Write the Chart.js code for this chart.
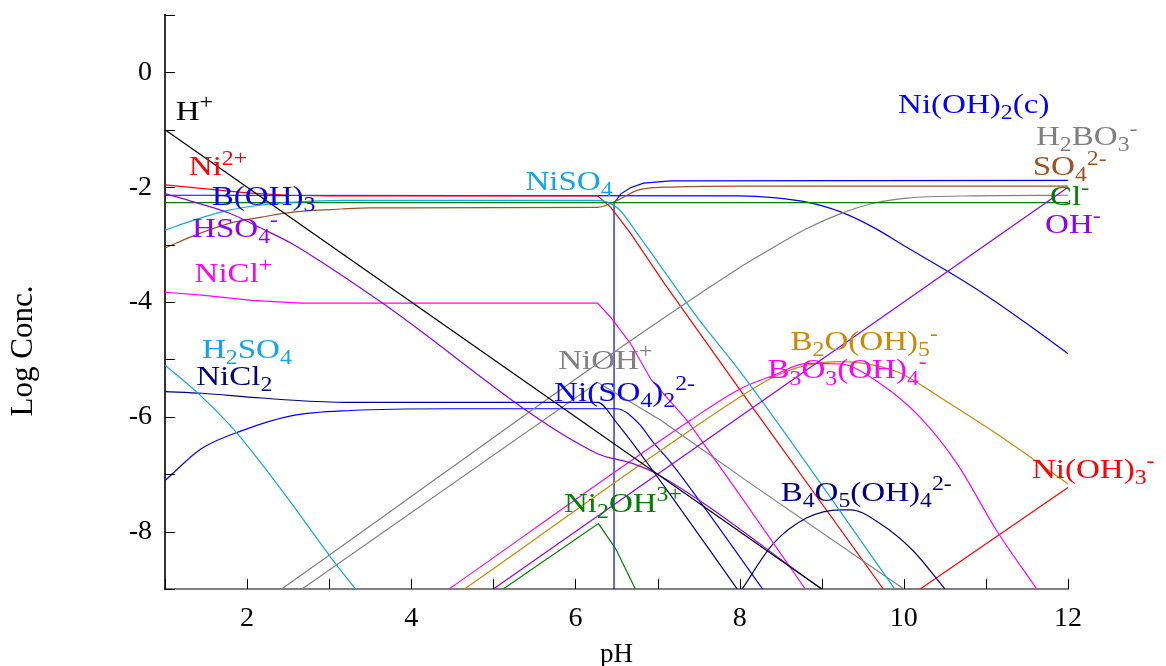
<!DOCTYPE html>
<html lang="en">
<head>
  <meta charset="UTF-8">
  <title>Log Conc. vs pH</title>
  <style>
    html, body {
      margin: 0;
      padding: 0;
      background: #fff;
    }
    #chart-container {
      width: 1166px;
      height: 666px;
      position: relative;
    }
  </style>
  <script src="https://cdn.jsdelivr.net/npm/chart.js"></script>
</head>
<body>
  <div id="chart-container">
    <canvas id="specChart"></canvas>
  </div>

  <script>
    // species curves as [pH, log conc.] pairs
    const hPlus = [[1, -1], [9, -9]];
    const ohMinus = [[5, -9], [12, -2]];
    const clMinus = [[1, -2.27], [12, -2.27]];
    const ni2 = [[1, -1.96], [1.5, -2.03], [2, -2.1], [2.5, -2.14], [3, -2.15], [6.27, -2.15], [6.43, -2.35], [6.67, -2.8], [7.08, -3.67], [8.07, -5.66], [9.75, -9]];
    const bOH3 = [[1, -2.14], [8, -2.15], [8.41, -2.18], [8.82, -2.26], [9.23, -2.43], [9.63, -2.7], [10.04, -3.05], [10.54, -3.47], [11.05, -3.93], [11.53, -4.41], [12, -4.9]];
    const hso4 = [[1, -2.11], [1.36, -2.26], [1.78, -2.45], [2.18, -2.72], [2.58, -3.01], [2.87, -3.27], [3.6, -3.97], [6.25, -6.63], [6.71, -6.82], [7, -7], [9, -9]];
    const niCl = [[1, -3.83], [1.45, -3.88], [2.06, -3.97], [2.66, -4.02], [6.27, -4.02], [6.43, -4.27], [6.67, -4.72], [6.92, -5.35], [7.37, -6.08], [8.07, -7.5], [8.8, -9]];
    const niCl2 = [[1, -5.56], [1.45, -5.59], [2.06, -5.66], [2.66, -5.72], [3.27, -5.75], [6.27, -5.75], [6.5, -6.1], [7, -7.05], [7.97, -9]];
    const h2so4 = [[1, -5.1], [1.41, -5.6], [1.85, -6.24], [2.46, -7.35], [3.03, -8.47], [3.32, -9]];
    const niSO4 = [[1, -2.75], [1.36, -2.57], [1.78, -2.4], [2.18, -2.31], [2.58, -2.26], [3.15, -2.23], [6.27, -2.23], [6.52, -2.37], [6.75, -2.8], [7, -3.3], [7.5, -4.3], [8, -5.2], [9.89, -9]];
    const so4 = [[1, -3.06], [1.36, -2.84], [1.78, -2.63], [2.18, -2.52], [2.58, -2.43], [3.15, -2.38], [3.5, -2.36], [6.27, -2.35], [6.51, -2.23], [6.76, -2.05], [7.08, -2], [8, -1.98], [12, -1.98]];
    const niSO42 = [[1, -7.11], [1.45, -6.55], [1.94, -6.24], [2.55, -5.98], [3.27, -5.89], [4.49, -5.86], [6.5, -5.86], [6.76, -6.1], [6.95, -6.45], [7.14, -6.76], [7.56, -7.56], [8.28, -9]];
    const niOH = [[2.67, -9], [6.27, -5.4], [6.5, -5.6], [7.04, -6.06], [8.13, -7.16], [10, -9]];
    const h2bo3 = [[2.42, -9], [8.01, -3.39], [8.41, -3.05], [8.82, -2.72], [9.23, -2.46], [9.63, -2.28], [10.04, -2.19], [10.84, -2.15], [12, -2.14]];
    const ni2OH = [[5.12, -9], [6.28, -7.86], [6.49, -8.3], [6.73, -9]];
    const b2o = [[4.65, -9], [8, -5.66], [8.41, -5.31], [8.82, -5.1], [9.23, -5.04], [9.63, -5.1], [9.96, -5.24], [10.44, -5.66], [11.26, -6.42], [12, -7.17]];
    const b3o3 = [[4.46, -9], [7.4, -6.06], [8.01, -5.51], [8.41, -5.28], [8.82, -5.07], [9.23, -5.08], [9.71, -5.42], [10.2, -6.01], [10.65, -6.82], [11.13, -7.98], [11.62, -9]];
    const b4o5 = [[8.03, -9], [8.41, -8.21], [8.82, -7.76], [9.23, -7.62], [9.35, -7.62], [9.71, -7.86], [10.11, -8.33], [10.5, -9]];
    const niOH3 = [[10.2, -9], [12, -7.23]];
    const niOH2c = [[6.47, -9], [6.47, -2.28], [6.55, -2.12], [6.67, -2.01], [6.83, -1.93], [7.16, -1.89], [12, -1.88]];

    const pHTicks = [2, 4, 6, 8, 10, 12];
    const logTicks = [0, -2, -4, -6, -8];

    const serif = '"Liberation Serif", "Times New Roman", serif';
    const LABEL_SIZE = 28;
    const STRETCH = 1.18;

    // curve, colour, smooth?
    const series = [
      [hPlus, '#000000', false],
      [ohMinus, '#8f00ff', false],
      [hso4, '#8f00ff', true],
      [h2so4, '#12a4ee', true],
      [niSO4, '#12a4ee', true],
      [clMinus, '#008000', false],
      [ni2OH, '#008000', false],
      [so4, '#a0521e', true],
      [niCl, '#ff00ff', false],
      [b3o3, '#ff00ff', true],
      [niCl2, '#000080', true],
      [b4o5, '#000080', true],
      [niOH, '#808080', false],
      [h2bo3, '#808080', true],
      [b2o, '#cc8800', true],
      [niOH3, '#ff0000', false],
      [ni2, '#ff0000', false],
      [bOH3, '#0000ff', true],
      [niSO42, '#0000ff', true],
      [niOH2c, '#0000ff', false]
    ];

    // label text (_x = subscript, ^{..} = superscript) anchored at [pH, log conc.]
    const speciesLabels = [
      ['H^{+}', 1.13, -0.83, '#000000'],
      ['Ni^{2+}', 1.29, -1.79, '#ff0000'],
      ['B(OH)_3', 1.57, -2.31, '#0000ff'],
      ['HSO_4^{-}', 1.33, -2.87, '#8f00ff'],
      ['NiCl^{+}', 1.36, -3.66, '#ff00ff'],
      ['H_2SO_4', 1.45, -4.97, '#12a4ee'],
      ['NiCl_2', 1.38, -5.45, '#000080'],
      ['NiSO_4', 5.39, -2.05, '#12a4ee'],
      ['NiOH^{+}', 5.79, -5.16, '#808080'],
      ['Ni(SO_4)_2^{2-}', 5.74, -5.72, '#0000ff'],
      ['Ni_2OH^{3+}', 5.86, -7.65, '#008000'],
      ['B_4O_5(OH)_4^{2-}', 8.5, -7.46, '#000080'],
      ['B_2O(OH)_5^{-}', 8.62, -4.84, '#cc8800'],
      ['B_3O_3(OH)_4^{-}', 8.34, -5.33, '#ff00ff'],
      ['Ni(OH)_3^{-}', 11.56, -7.06, '#ff0000'],
      ['Ni(OH)_2(c)', 9.93, -0.71, '#0000ff'],
      ['H_2BO_3^{-}', 11.61, -1.27, '#808080'],
      ['SO_4^{2-}', 11.57, -1.79, '#a0521e'],
      ['Cl^{-}', 11.78, -2.31, '#008000'],
      ['OH^{-}', 11.72, -2.8, '#8f00ff']
    ];

    const yTitle = 'Log Conc.';

    function parseRich(str) {
      const segs = [];
      let buf = '';
      for (let i = 0; i < str.length; i++) {
        const c = str[i];
        if (c === '_' || c === '^') {
          if (buf) { segs.push({ t: buf, m: 'n' }); buf = ''; }
          if (c === '_') {
            segs.push({ t: str[i + 1], m: 'b' });
            i++;
          } else {
            const end = str.indexOf('}', i);
            segs.push({ t: str.slice(i + 2, end), m: 'p' });
            i = end;
          }
        } else {
          buf += c;
        }
      }
      if (buf) segs.push({ t: buf, m: 'n' });
      return segs;
    }

    const richLabels = {
      id: 'richLabels',
      afterDatasetsDraw(chart) {
        const { ctx, scales: { x, y } } = chart;
        speciesLabels.forEach(([text, ph, logc, color]) => {
          ctx.save();
          ctx.translate(x.getPixelForValue(ph), y.getPixelForValue(logc));
          ctx.scale(STRETCH, 1);
          ctx.fillStyle = color;
          ctx.textBaseline = 'alphabetic';
          let cx = 0;
          parseRich(text).forEach(seg => {
            const size = seg.m === 'n' ? LABEL_SIZE : LABEL_SIZE * 0.72;
            const dy = seg.m === 'b' ? LABEL_SIZE * 0.22 : seg.m === 'p' ? -LABEL_SIZE * 0.38 : 0;
            ctx.font = `${size}px ${serif}`;
            ctx.fillText(seg.t, cx, dy);
            cx += ctx.measureText(seg.t).width;
          });
          ctx.restore();
        });
      }
    };

    // tick marks pointing into the plot, plus the rotated y title
    const innerTicks = {
      id: 'innerTicks',
      afterDraw(chart) {
        const { ctx, chartArea: a, scales: { x, y } } = chart;
        ctx.save();
        ctx.strokeStyle = '#000';
        ctx.lineWidth = 1;
        ctx.beginPath();
        x.ticks.forEach(t => {
          const px = Math.round(x.getPixelForValue(t.value)) + 0.5;
          ctx.moveTo(px, a.bottom);
          ctx.lineTo(px, a.bottom - 10);
        });
        y.ticks.forEach(t => {
          const py = Math.round(y.getPixelForValue(t.value)) + 0.5;
          ctx.moveTo(a.left, py);
          ctx.lineTo(a.left + 10, py);
        });
        ctx.stroke();

        ctx.translate(24, 351);
        ctx.rotate(-Math.PI / 2);
        ctx.fillStyle = '#000';
        ctx.font = `31px ${serif}`;
        ctx.textAlign = 'center';
        ctx.textBaseline = 'middle';
        ctx.fillText(yTitle, 0, 0);
        ctx.restore();
      }
    };

    const ctx = document.getElementById('specChart').getContext('2d');
    new Chart(ctx, {
      type: 'scatter',
      data: {
        datasets: series.map(([pts, color, smooth]) => ({
          data: pts.map(p => ({ x: p[0], y: p[1] })),
          showLine: true,
          borderColor: color,
          backgroundColor: color,
          borderWidth: 1.2,
          pointRadius: 0,
          pointHoverRadius: 0,
          cubicInterpolationMode: smooth ? 'monotone' : 'default',
          tension: 0
        }))
      },
      options: {
        responsive: true,
        maintainAspectRatio: false,
        animation: false,
        layout: {
          padding: { left: 0, right: 98, top: 15, bottom: 0 }
        },
        plugins: {
          legend: { display: false },
          tooltip: { enabled: false }
        },
        scales: {
          x: {
            type: 'linear',
            min: 1,
            max: 12,
            afterFit: s => { s.height = 77; s.paddingLeft = 0; s.paddingRight = 0; },
            ticks: {
              stepSize: 1,
              padding: 13,
              maxRotation: 0,
              autoSkip: false,
              color: '#000',
              font: { family: serif, size: 28 },
              callback: v => pHTicks.includes(v) ? String(v) : ''
            },
            grid: { display: true, drawOnChartArea: false, drawTicks: false },
            border: { display: true, color: '#808080', width: 2 },
            title: {
              display: true,
              text: 'pH',
              color: '#000',
              font: { family: serif, size: 27, lineHeight: 0.8 },
              padding: { top: 0, bottom: 0 }
            }
          },
          y: {
            type: 'linear',
            min: -9,
            max: 1,
            afterFit: s => { s.width = 165; s.paddingTop = 0; s.paddingBottom = 0; },
            ticks: {
              stepSize: 1,
              padding: 13,
              autoSkip: false,
              color: '#000',
              font: { family: serif, size: 28 },
              callback: v => logTicks.includes(v) ? String(v) : ''
            },
            grid: { display: true, drawOnChartArea: false, drawTicks: false },
            border: { display: true, color: '#333333', width: 2 }
          }
        }
      },
      plugins: [richLabels, innerTicks]
    });
  </script>
</body>
</html>
